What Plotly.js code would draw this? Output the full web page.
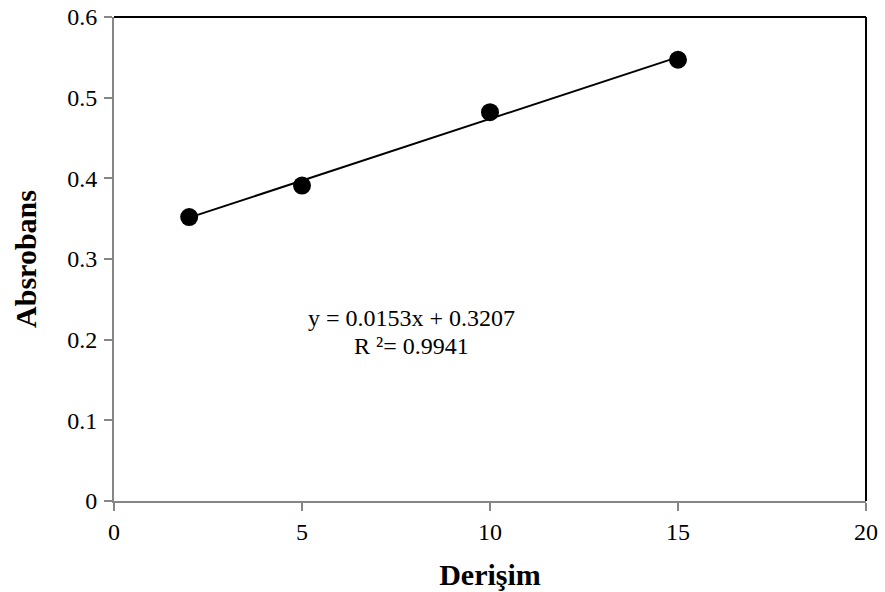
<!DOCTYPE html>
<html>
<head>
<meta charset="utf-8">
<script src="https://cdn.plot.ly/plotly-3.0.1.min.js"></script>
<style>
  html, body { margin: 0; padding: 0; background: #ffffff; }
  #chart { width: 885px; height: 592px; }
</style>
</head>
<body>
<div id="chart"></div>
<script>
// Calibration data: concentration vs. absorbance
const concentration = [2, 5, 10, 15];
const absorbance = [0.352, 0.391, 0.482, 0.547];

// Linear fit as reported on the chart
const slope = 0.0153;
const intercept = 0.3207;
const rSquared = 0.9941;

const xTicks = [0, 5, 10, 15, 20];
const yTicks = [0, 0.1, 0.2, 0.3, 0.4, 0.5, 0.6];

const fitX = [Math.min(...concentration), Math.max(...concentration)];
const fitY = fitX.map(x => slope * x + intercept);

const serif = 'Liberation Serif, Times New Roman, serif';
const axisGray = '#868686';

const traces = [
  {
    x: fitX, y: fitY,
    mode: 'lines',
    line: { color: '#000000', width: 2 },
    hoverinfo: 'skip',
    showlegend: false
  },
  {
    x: concentration, y: absorbance,
    mode: 'markers',
    marker: { color: '#000000', size: 18, symbol: 'circle' },
    showlegend: false
  }
];

const layout = {
  width: 885, height: 592,
  margin: { l: 114, r: 19, t: 17, b: 91 },
  paper_bgcolor: '#ffffff',
  plot_bgcolor: '#ffffff',
  font: { family: serif, color: '#000000', size: 24 },
  showlegend: false,
  xaxis: {
    range: [0, 20],
    tickvals: xTicks,
    ticktext: xTicks.map(String),
    showgrid: false, zeroline: false,
    showline: true, linecolor: axisGray, linewidth: 2,
    ticks: 'outside', ticklen: 8, tickwidth: 2, tickcolor: axisGray,
    tickfont: { family: serif, size: 24, color: '#000000' },
    title: { text: '<b>Derişim</b>', font: { family: serif, size: 30 }, standoff: 20 }
  },
  yaxis: {
    range: [0, 0.6],
    tickvals: yTicks,
    ticktext: yTicks.map(v => v === 0 ? '0' : v.toFixed(1)),
    showgrid: false, zeroline: false,
    showline: true, linecolor: axisGray, linewidth: 2,
    ticks: 'outside', ticklen: 8, tickwidth: 2, tickcolor: axisGray,
    tickfont: { family: serif, size: 24, color: '#000000' },
    ticklabelstandoff: 2,
    title: { text: '<b>Absrobans</b>', font: { family: serif, size: 30 }, standoff: 22 }
  },
  shapes: [
    { type: 'line', xref: 'paper', yref: 'paper', x0: 0, x1: 1, y0: 1, y1: 1,
      line: { color: '#000000', width: 2 } },
    { type: 'line', xref: 'paper', yref: 'paper', x0: 1, x1: 1, y0: 0, y1: 1,
      line: { color: '#000000', width: 2 } }
  ],
  annotations: [
    {
      x: 7.9, y: 0.2272, xref: 'x', yref: 'y',
      text: 'y = ' + slope.toFixed(4) + 'x + ' + intercept.toFixed(4),
      showarrow: false, xanchor: 'center', yanchor: 'middle',
      font: { family: serif, size: 24, color: '#000000' }
    },
    {
      x: 7.9, y: 0.1926, xref: 'x', yref: 'y',
      text: 'R ²= ' + rSquared.toFixed(4),
      showarrow: false, xanchor: 'center', yanchor: 'middle',
      font: { family: serif, size: 24, color: '#000000' }
    }
  ]
};

Plotly.newPlot('chart', traces, layout, { displayModeBar: false, staticPlot: true });
</script>
</body>
</html>
